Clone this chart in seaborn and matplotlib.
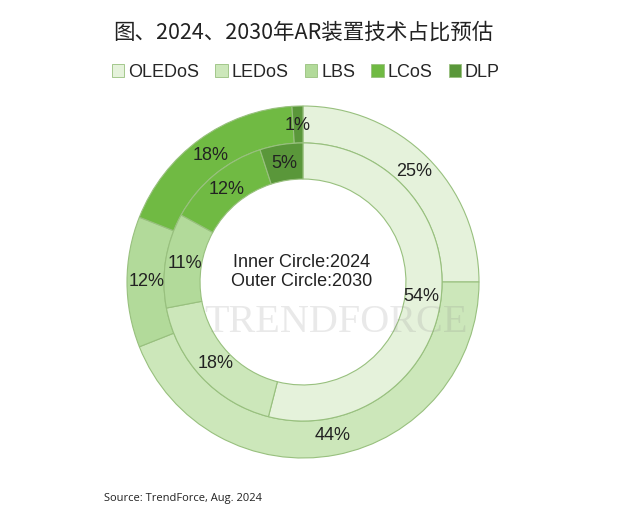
import matplotlib.pyplot as plt
import seaborn as sns
from matplotlib.patches import Patch

# data
techs = ['OLEDoS', 'LEDoS', 'LBS', 'LCoS', 'DLP']
share_2024 = [54, 18, 11, 12, 5]   # inner ring
share_2030 = [25, 44, 12, 18, 1]   # outer ring
colors = ['#e5f2db', '#cce7ba', '#b2da9a', '#70ba43', '#5a973a']

sns.set_theme(style='white')
plt.rcParams['font.family'] = ['Liberation Sans', 'Noto Sans CJK SC', 'DejaVu Sans']

fig = plt.figure(figsize=(6.18, 5.24), dpi=100)
cx, cy, r = 303, 282, 176
ax = fig.add_axes([(cx - r) / 618, (524 - cy - r) / 524, 2 * r / 618, 2 * r / 524])

wedge_kw = dict(edgecolor='#98c07e', linewidth=0.8)
ax.pie(share_2030, radius=1.0, colors=colors, startangle=90, counterclock=False,
       wedgeprops=dict(width=0.21, **wedge_kw),
       autopct='%d%%', pctdistance=0.89,
       textprops=dict(fontsize=13, color='#222222'))
ax.pie(share_2024, radius=0.79, colors=colors, startangle=90, counterclock=False,
       wedgeprops=dict(width=0.205, **wedge_kw),
       autopct='%d%%', pctdistance=0.86,
       textprops=dict(fontsize=13, color='#222222'))
ax.set_xlim(-1, 1)
ax.set_ylim(-1, 1)
ax.set_aspect('equal')
ax.axis('off')

ax.text(-0.01, 0.11, 'Inner Circle:2024', ha='center', va='center', fontsize=13, color='#222222')
ax.text(-0.01, 0.0, 'Outer Circle:2030', ha='center', va='center', fontsize=13, color='#222222')

# faint watermark
ax.text(0.19, -0.23, 'TRENDFORCE', ha='center', va='center', fontsize=29,
        family='Liberation Serif', color='#888888', alpha=0.18)

fig.text(0.49, 0.937, '图、2024、2030年AR装置技术占比预估', ha='center', va='center',
         fontsize=15.5, color='#222222', family=['Noto Sans CJK SC', 'DejaVu Sans'])

handles = [Patch(facecolor=c, edgecolor='#98c07e', linewidth=0.6) for c in colors]
fig.legend(handles, techs, loc='center', bbox_to_anchor=(0.495, 0.862), ncol=5,
           frameon=False, fontsize=13, handlelength=0.7, handleheight=0.7,
           handletextpad=0.2, columnspacing=0.9)

fig.text(104 / 618, 1 - 498 / 524, 'Source: TrendForce, Aug. 2024', ha='left', va='center',
         fontsize=8, color='#222222', family='Open Sans')

fig.savefig('out.png', dpi=100, facecolor='white')
